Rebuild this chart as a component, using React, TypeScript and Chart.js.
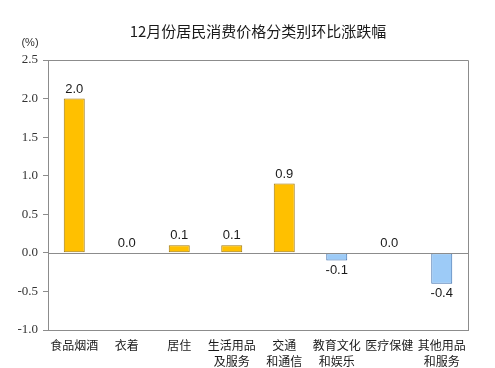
import React, { useEffect, useRef } from "react";
import { Chart, registerables } from "chart.js";

Chart.register(...registerables);

const categories: (string | string[])[] = [
  "食品烟酒",
  "衣着",
  "居住",
  ["生活用品", "及服务"],
  ["交通", "和通信"],
  ["教育文化", "和娱乐"],
  "医疗保健",
  ["其他用品", "和服务"],
];
const values: number[] = [2.0, 0.0, 0.1, 0.1, 0.9, -0.1, 0.0, -0.4];
const yTicks = { min: -1.0, max: 2.5, step: 0.5 };
const titleText = "12月份居民消费价格分类别环比涨跌幅";
const unitText = "(%)";

const POS_FILL = "#FFC000";
const POS_BORDER = "#A07A10";
const NEG_FILL = "#9DCBF7";
const NEG_BORDER = "#3D6FAE";
const AXIS = "#8C8C8C";

export default function App() {
  const ref = useRef<HTMLCanvasElement | null>(null);

  useEffect(() => {
    if (!ref.current) return;
    const decor = {
      id: "decor",
      afterDatasetsDraw(chart: any) {
        const ctx = chart.ctx;
        const a = chart.chartArea;
        const ys = chart.scales.y;
        ctx.save();
        // border top/right
        ctx.strokeStyle = AXIS;
        ctx.lineWidth = 1;
        ctx.beginPath();
        ctx.moveTo(a.left, a.top + 0.5);
        ctx.lineTo(a.right + 0.5, a.top + 0.5);
        ctx.lineTo(a.right + 0.5, a.bottom);
        ctx.stroke();
        // zero line
        const y0 = Math.round(ys.getPixelForValue(0)) + 0.5;
        ctx.beginPath();
        ctx.moveTo(a.left, y0);
        ctx.lineTo(a.right, y0);
        ctx.stroke();
        // labels
        const meta = chart.getDatasetMeta(0);
        ctx.fillStyle = "#1a1a1a";
        ctx.font = "13px 'Liberation Sans', Arial, sans-serif";
        ctx.textAlign = "center";
        meta.data.forEach((bar: any, i: number) => {
          const v = values[i];
          const txt = v.toFixed(1);
          if (v < 0) {
            ctx.textBaseline = "top";
            ctx.fillText(txt, bar.x, bar.y + 3);
          } else {
            ctx.textBaseline = "bottom";
            ctx.fillText(txt, bar.x, bar.y - 3);
          }
        });
        // title
        ctx.font = "15px 'Noto Sans CJK SC', sans-serif";
        ctx.textBaseline = "middle";
        ctx.fillStyle = "#1a1a1a";
        ctx.fillText(titleText, (a.left + a.right) / 2, 31);
        ctx.font = "11px 'Liberation Sans', Arial, sans-serif";
        ctx.fillStyle = "#333";
        ctx.fillText(unitText, 30, 43);
        ctx.restore();
      },
    };

    const chart = new Chart(ref.current, {
      type: "bar",
      data: {
        labels: categories,
        datasets: [
          {
            data: values,
            backgroundColor: values.map((v) => (v < 0 ? NEG_FILL : POS_FILL)),
            borderColor: values.map((v) => (v < 0 ? NEG_BORDER : POS_BORDER)),
            borderWidth: 1,
            borderSkipped: false,
            barPercentage: 0.4,
            categoryPercentage: 1,
          },
        ],
      },
      options: {
        responsive: false,
        animation: false,
        layout: { padding: { top: 60, right: 27, left: 0, bottom: 0 } },
        plugins: {
          legend: { display: false },
          tooltip: { enabled: false },
          title: { display: false },
        },
        scales: {
          x: {
            grid: { display: false, drawTicks: false },
            border: { display: true, color: AXIS },
            ticks: {
              color: "#1a1a1a",
              padding: 8,
              maxRotation: 0,
              autoSkip: false,
              font: { family: "'Noto Sans CJK SC', sans-serif", size: 12, lineHeight: 1.3 },
            },
            afterFit(scale: any) {
              scale.height = 38;
            },
          },
          y: {
            min: yTicks.min,
            max: yTicks.max,
            ticks: {
              stepSize: yTicks.step,
              color: "#333",
              padding: 5,
              font: { family: "'Liberation Serif', 'Times New Roman', serif", size: 13 },
              callback: (v: any) => Number(v).toFixed(1),
            },
            grid: { drawOnChartArea: false, drawTicks: true, tickLength: 5, color: AXIS },
            border: { display: true, color: AXIS },
            afterFit(scale: any) {
              scale.width = 48;
            },
          },
        },
      },
      plugins: [decor],
    });
    return () => chart.destroy();
  }, []);

  return (
    <div style={{ position: "absolute", left: 0, top: 0, width: 495, height: 368, background: "#fff" }}>
      <canvas ref={ref} width={495} height={368} />
    </div>
  );
}
